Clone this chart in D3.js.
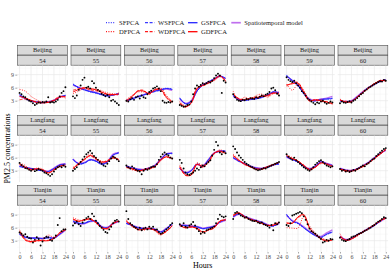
<!DOCTYPE html>
<html>
<head>
<meta charset="utf-8">
<script src="https://cdn.jsdelivr.net/npm/d3@7"></script>
<style>
  body { margin: 0; background: #fff; }
  text { font-family: "Liberation Serif", "DejaVu Serif", serif; }
</style>
</head>
<body>
<div class="canvas"></div>
<script>
// facets
const cities = ["Beijing", "Langfang", "Tianjin"];
const days = ["54", "55", "56", "57", "58", "59", "60"];

// x positions
const obsHours = [0,1,2,3,4,5,6,7,8,9,10,11,12,13,14,15,16,17,18,19,20,21,22,23,24];
const knotHours = [0,3,6,9,12,15,18,21,24];
const xTicks = [0, 6, 12, 18, 24];
const yTicks = [3, 6, 9];

// observed PM2.5 (one row per panel, Beijing 54..60, Langfang 54..60, Tianjin 54..60)
const obs = [
  [4.8,4.5,4.0,3.8,3.3,3.0,2.8,2.4,2.0,2.3,2.6,2.5,2.7,2.6,2.8,3.8,2.6,2.7,2.6,2.8,3.2,4.0,4.8,5.2,6.1],
  [4.0,3.6,4.2,5.5,6.5,7.8,8.3,6.0,6.2,5.8,7.5,7.0,6.0,5.5,5.2,4.6,4.3,4.0,4.3,3.8,3.0,3.2,2.8,2.4,2.0],
  [3.0,2.8,3.3,3.6,3.2,3.8,4.0,3.5,4.2,3.8,3.6,4.5,5.0,5.3,5.8,6.0,6.3,5.8,5.2,3.0,2.6,2.5,2.7,2.6,2.8],
  [2.0,1.8,1.6,1.7,2.0,2.1,2.8,4.5,5.8,6.5,6.2,6.6,7.0,6.8,7.0,7.4,7.2,7.6,8.2,8.8,9.2,8.8,4.8,7.6,7.2],
  [4.5,3.8,3.2,3.0,2.9,3.2,3.1,3.4,3.3,3.6,3.5,3.4,3.8,3.6,3.9,4.2,4.0,4.4,4.6,5.0,5.8,6.0,5.4,4.6,4.2],
  [8.4,7.8,7.5,7.3,7.6,7.0,6.5,6.0,5.2,4.8,4.2,3.5,3.2,2.8,2.5,2.2,2.6,2.4,2.8,3.0,2.6,2.3,2.5,2.8,2.6],
  [2.4,2.8,2.6,2.5,2.7,2.9,2.6,3.0,3.2,3.6,4.0,4.5,4.8,5.3,5.6,6.0,6.2,6.5,6.8,7.0,7.3,7.5,7.4,7.8,7.6],
  [4.8,4.3,4.0,3.6,3.5,3.2,3.0,3.3,2.9,3.1,3.4,3.2,3.0,2.6,2.4,2.1,1.8,2.2,2.8,3.4,3.8,4.0,3.8,4.2,3.9],
  [3.0,3.4,3.8,4.5,5.0,5.6,6.2,6.8,7.2,7.6,7.0,6.4,6.0,5.5,5.0,4.6,4.2,4.0,4.6,5.2,5.8,6.2,6.0,5.6,5.2],
  [4.2,3.8,3.5,4.0,3.6,3.2,3.0,2.8,2.2,3.0,3.4,3.2,3.5,3.8,4.0,3.9,4.5,5.5,6.2,6.8,7.2,6.8,6.5,6.0,5.8],
  [5.5,4.8,3.5,2.6,2.2,2.0,2.3,2.6,3.0,3.5,3.2,3.8,4.2,4.0,4.6,5.0,5.4,6.5,7.8,9.6,8.8,7.2,6.8,7.4,7.0],
  [8.6,8.0,7.2,6.5,6.0,5.5,5.0,4.6,4.3,4.0,3.8,3.5,3.3,3.1,3.2,3.4,3.6,3.5,3.8,4.0,4.2,4.4,4.6,4.8,5.0],
  [6.8,6.2,5.8,5.5,6.0,5.4,5.0,4.6,4.2,3.8,3.5,3.2,3.0,3.3,3.8,4.4,4.8,5.2,5.4,5.0,4.6,4.2,4.0,3.8,4.0],
  [3.4,3.0,3.2,2.8,3.0,2.7,2.9,3.2,3.0,3.4,3.6,3.9,4.2,4.0,4.5,4.8,5.2,5.6,5.8,6.4,6.8,7.2,7.6,8.0,8.2],
  [4.9,4.6,4.2,4.5,3.9,3.6,3.5,2.6,3.2,3.8,3.4,1.9,2.8,3.6,3.9,3.8,3.2,3.0,3.6,4.2,6.6,8.2,5.2,5.6,5.6],
  [6.5,7.0,7.4,6.8,6.4,7.2,7.8,8.2,8.5,8.0,9.2,8.6,7.6,7.0,6.4,6.0,5.5,5.0,4.8,5.6,6.2,7.0,7.6,7.8,7.4],
  [9.8,8.0,7.0,6.6,6.2,6.0,5.6,6.0,5.4,5.8,6.0,5.6,6.2,5.8,6.2,5.5,5.6,5.0,4.6,4.8,5.2,5.6,6.0,6.6,7.0],
  [6.8,6.4,7.0,6.2,6.0,6.5,6.8,7.3,6.5,5.8,5.2,4.6,5.0,4.8,5.4,5.6,5.8,6.0,6.3,7.0,8.0,9.0,8.6,8.4,8.6],
  [8.0,9.4,9.6,9.2,8.8,8.6,8.3,8.4,8.0,7.8,7.6,7.5,7.6,7.2,7.0,7.2,6.8,6.6,6.4,6.0,6.6,5.4,7.0,6.8,7.2],
  [6.6,6.4,7.0,8.8,9.0,9.2,9.4,9.6,9.3,8.6,7.8,6.8,5.8,5.2,4.9,4.6,4.2,3.8,3.4,2.6,2.8,3.2,3.0,3.4,3.3],
  [3.7,3.2,3.0,2.9,3.2,3.4,3.8,4.0,4.1,4.4,4.6,4.8,5.0,5.3,5.5,5.8,6.0,6.4,6.6,7.0,7.4,7.6,8.0,8.4,8.2]
];

// fitted curves, values at knotHours
const sfpca = [
  [4.5,3.6,3.0,2.8,2.6,2.6,3.0,3.7,4.3],[6.9,6.0,5.4,5.0,4.7,4.4,4.2,4.4,4.7],[3.0,3.3,3.8,4.2,4.8,5.2,5.6,5.9,5.7],
  [3.7,2.2,2.7,5.1,6.5,7.4,8.1,8.8,8.0],[4.3,3.2,3.0,3.2,3.5,3.8,4.2,5.0,4.7],[8.9,7.5,6.4,4.5,3.1,3.0,3.3,3.3,3.4],
  [3.1,2.8,2.8,3.8,5.0,6.1,6.9,7.4,7.9],
  [3.9,3.6,3.4,3.3,3.0,2.8,3.4,4.2,4.4],[5.5,4.5,4.8,5.4,5.1,4.5,4.9,6.5,7.0],[3.9,3.6,3.3,3.1,3.5,4.2,5.5,6.7,6.9],
  [3.4,2.5,2.9,4.5,4.0,5.4,6.9,7.5,7.6],[6.1,5.3,4.5,4.0,3.6,3.4,3.8,4.2,4.6],[6.3,5.7,4.9,4.0,3.3,3.9,4.9,4.6,4.1],
  [3.4,3.1,3.0,3.3,4.0,4.9,5.8,6.8,7.9],
  [4.4,3.8,3.5,3.6,3.5,3.6,3.6,4.6,5.6],[7.6,7.1,7.0,7.5,7.6,6.2,5.9,7.0,7.6],[6.9,6.5,6.0,5.7,5.8,5.5,5.0,5.7,6.9],
  [6.4,6.5,6.3,6.1,5.8,5.9,6.3,7.4,7.9],[8.6,9.3,8.5,8.0,7.5,7.1,6.6,6.3,7.1],[9.1,7.4,6.9,5.9,4.9,4.1,3.8,4.4,4.9],
  [3.9,3.2,3.5,4.2,5.0,5.7,6.5,7.5,8.4]
];
const wsfpca = [
  [4.4,3.5,2.9,2.7,2.5,2.7,3.1,3.8,4.2],[6.7,5.9,5.5,5.1,4.8,4.3,4.0,4.3,4.6],[2.9,3.4,3.9,4.4,4.7,5.1,5.4,5.8,5.6],
  [3.5,2.3,2.9,5.3,6.6,7.3,8.0,8.6,8.1],[4.1,3.1,3.1,3.3,3.4,3.7,4.3,5.1,4.8],[8.7,7.6,6.5,4.7,3.2,2.9,3.2,3.4,3.6],
  [3.0,2.7,2.9,3.9,4.9,6.0,6.8,7.3,7.8],
  [4.0,3.7,3.5,3.2,2.9,2.8,3.5,4.3,4.5],[5.6,4.6,4.7,5.5,5.2,4.4,5.0,6.6,7.1],[4.0,3.5,3.2,3.2,3.6,4.1,5.6,6.8,7.0],
  [3.5,2.4,3.0,4.6,3.9,5.5,7.0,7.4,7.5],[6.0,5.1,4.6,3.9,3.5,3.5,3.7,4.3,4.5],[6.2,5.5,5.0,3.9,3.4,4.0,5.0,4.5,4.2],
  [3.5,3.0,2.9,3.4,4.1,4.8,5.9,6.9,7.8],
  [4.5,3.7,3.6,3.5,3.4,3.7,3.5,4.5,5.5],[7.5,7.0,7.1,7.6,7.5,6.1,6.0,7.1,7.5],[7.0,6.4,5.9,5.8,5.7,5.6,4.9,5.8,6.8],
  [6.5,6.4,6.2,6.2,5.7,6.0,6.2,7.3,7.8],[8.5,9.2,8.7,7.9,7.6,7.2,6.5,6.4,7.0],[9.0,7.5,7.0,6.0,5.0,4.2,3.7,4.5,5.1],
  [4.0,3.1,3.4,4.3,4.9,5.8,6.4,7.6,8.3]
];
const gsfpca = [
  [4.3,3.5,3.0,2.7,2.6,2.7,3.0,3.8,4.2],[6.8,6.0,5.5,5.1,4.8,4.4,4.1,4.3,4.6],[3.0,3.4,3.9,4.3,4.8,5.2,5.5,5.8,5.6],
  [3.6,2.3,2.8,5.2,6.6,7.3,8.0,8.7,8.1],[4.2,3.2,3.1,3.3,3.5,3.8,4.3,5.0,4.8],[8.8,7.6,6.5,4.6,3.2,3.0,3.3,3.4,3.5],
  [3.0,2.8,2.9,3.9,5.0,6.0,6.8,7.4,7.8],
  [4.0,3.7,3.5,3.3,3.0,2.8,3.5,4.3,4.5],[5.6,4.6,4.8,5.5,5.2,4.5,5.0,6.6,7.1],[4.0,3.6,3.3,3.2,3.6,4.2,5.6,6.8,7.0],
  [3.5,2.5,3.0,4.5,4.0,5.5,7.0,7.5,7.5],[6.0,5.2,4.6,4.0,3.6,3.5,3.8,4.3,4.6],[6.2,5.6,5.0,4.0,3.4,4.0,5.0,4.6,4.2],
  [3.5,3.1,3.0,3.4,4.1,4.9,5.9,6.9,7.8],
  [4.5,3.8,3.6,3.6,3.5,3.7,3.6,4.5,5.5],[7.5,7.0,7.0,7.5,7.5,6.2,6.0,7.0,7.5],[7.0,6.5,6.0,5.8,5.8,5.6,5.0,5.8,6.8],
  [6.5,6.5,6.3,6.2,5.8,6.0,6.3,7.3,7.8],[8.5,9.2,8.6,8.0,7.6,7.2,6.6,6.4,7.0],[9.0,7.5,7.0,6.0,5.0,4.2,3.8,4.5,5.0],
  [4.0,3.2,3.5,4.3,5.0,5.8,6.5,7.5,8.3]
];
const spatiotemporal = [
  [4.1,3.4,2.9,2.7,2.6,2.8,3.1,3.9,4.1],[6.6,6.1,5.6,5.2,4.9,4.5,4.2,4.4,4.5],[3.1,3.5,4.0,4.4,4.9,5.3,5.6,5.7,5.4],
  [3.4,2.4,3.0,5.4,6.7,7.2,7.9,8.6,8.2],[4.0,3.3,3.2,3.3,3.6,3.9,4.4,4.9,4.9],[8.6,7.7,6.6,4.8,3.4,3.1,3.4,3.6,4.0],
  [2.9,2.8,3.0,4.0,5.1,6.0,6.7,7.5,7.7],
  [4.1,3.8,3.5,3.3,3.1,2.9,3.6,4.4,4.6],[5.7,4.7,4.9,5.6,5.3,4.6,5.1,6.8,7.2],[4.1,3.7,3.4,3.3,3.7,4.3,5.7,6.9,7.1],
  [3.6,2.6,3.1,4.4,4.1,5.6,7.1,7.6,7.4],[5.9,5.2,4.6,4.1,3.7,3.6,3.9,4.4,4.7],[6.1,5.6,5.1,4.1,3.5,4.1,5.1,4.7,4.3],
  [3.6,3.2,3.1,3.5,4.2,5.0,6.0,7.0,7.7],
  [4.6,3.9,3.7,3.7,3.6,3.8,3.7,4.4,5.4],[7.3,6.9,6.9,7.4,7.4,6.3,6.1,6.9,7.4],[7.1,6.6,6.1,5.9,5.9,5.7,5.1,5.9,6.7],
  [6.6,6.6,6.4,6.3,5.9,6.1,6.4,7.2,7.7],[8.4,9.1,8.6,8.1,7.7,7.3,6.7,6.5,6.9],[8.8,7.6,7.1,6.2,5.2,4.4,4.0,4.8,5.5],
  [4.1,3.3,3.6,4.4,5.1,5.9,6.6,7.4,8.2]
];
const dfpca = [
  [5.6,5.2,4.0,3.2,2.6,2.8,3.0,3.9,3.6],[4.6,5.2,5.8,5.6,5.7,5.3,4.8,4.6,4.2],[3.3,4.2,5.0,5.0,4.8,5.4,5.9,4.2,2.9],
  [2.8,1.8,2.4,5.5,6.8,7.2,7.6,8.5,7.8],[5.2,3.0,3.8,3.4,4.2,4.5,3.8,4.6,5.0],[6.8,5.4,6.8,5.4,3.2,3.0,3.3,2.6,2.2],
  [3.4,2.6,3.0,3.6,5.2,5.8,7.1,7.3,7.9],
  [4.7,4.2,3.0,3.6,3.4,2.6,3.0,4.2,4.0],[3.8,4.4,5.8,6.8,6.0,5.2,5.0,6.3,5.3],[4.2,3.2,3.1,3.0,3.7,4.2,5.2,6.4,6.0],
  [4.3,2.2,2.4,4.8,4.3,4.8,6.8,7.8,7.2],[6.8,5.6,4.3,4.0,3.2,3.5,4.0,4.2,5.0],[6.7,6.0,5.0,4.4,3.1,3.9,4.6,4.7,3.8],
  [3.6,2.8,3.1,3.2,4.2,4.6,6.0,6.7,8.1],
  [5.5,3.5,2.9,3.2,3.3,4.3,3.8,4.6,5.8],[8.3,7.8,7.6,8.2,7.0,6.2,5.6,7.2,7.4],[7.8,6.2,5.8,5.4,6.0,5.2,4.3,5.4,6.2],
  [6.8,5.8,6.4,5.6,4.8,5.6,6.2,7.3,8.0],[9.0,9.5,8.3,8.1,7.4,7.1,6.3,6.8,7.3],[6.0,5.9,5.9,8.6,6.4,4.8,3.7,3.2,3.0],
  [4.6,3.0,3.6,4.0,5.2,5.6,6.8,7.4,8.4]
];
const wdfpca = [
  [3.2,3.4,3.0,2.8,2.7,2.6,3.2,4.0,3.8],[5.4,5.8,5.9,5.5,5.3,4.9,4.4,4.3,4.8],[2.8,3.8,5.3,5.4,4.5,5.5,5.4,3.6,2.6],
  [2.3,1.5,2.6,6.0,6.4,7.0,7.9,8.8,7.4],[4.6,3.5,3.3,3.6,3.8,4.1,4.0,4.7,4.6],[6.4,7.1,7.2,4.8,2.9,3.3,2.8,2.8,2.4],
  [3.1,2.9,2.7,3.9,4.8,6.1,6.8,7.7,7.5],
  [4.4,3.6,3.2,3.5,3.1,2.4,3.3,3.9,4.4],[3.4,4.8,5.5,6.4,5.6,4.9,5.4,5.9,5.6],[3.7,3.5,2.9,3.3,3.4,3.9,5.6,6.1,5.7],
  [3.8,1.9,2.1,4.4,3.8,5.1,7.1,7.4,6.9],[6.4,5.3,4.6,3.8,3.5,3.3,3.8,4.5,4.8],[6.4,5.7,5.3,4.1,3.4,3.7,4.9,4.4,4.1],
  [3.3,3.1,2.8,3.4,3.9,4.9,5.7,6.9,7.8],
  [5.0,3.1,2.7,2.9,3.1,3.1,3.6,4.9,5.4],[7.9,7.4,7.9,7.9,7.3,5.9,5.9,6.9,7.6],[7.4,6.5,5.5,5.7,5.7,5.5,4.6,5.1,6.5],
  [6.4,6.1,6.1,5.9,5.1,5.4,5.9,7.6,7.7],[8.7,9.3,8.6,7.8,7.6,6.9,6.6,6.5,7.1],[7.2,7.1,8.3,8.8,5.8,4.4,3.4,2.9,3.3],
  [3.9,3.2,3.3,4.3,4.9,5.9,6.5,7.7,8.1]
];
const gdfpca = [
  [4.0,3.6,3.1,2.6,2.5,2.6,3.0,3.8,4.0],[5.0,5.6,6.0,5.8,5.5,5.0,4.5,4.4,4.5],[3.0,4.0,5.2,5.2,4.6,5.6,5.6,3.8,2.7],
  [2.5,1.6,2.5,5.8,6.5,7.1,7.8,8.7,7.5],[4.5,3.4,3.2,3.5,3.7,4.0,4.2,4.8,4.5],[6.6,6.9,7.0,5.0,3.0,3.2,3.0,2.7,2.3],
  [3.2,2.7,2.8,3.8,4.9,5.9,6.9,7.6,7.6],
  [4.5,3.8,3.3,3.4,3.2,2.5,3.2,4.0,4.3],[3.5,4.6,5.6,6.5,5.8,5.0,5.2,6.0,5.5],[3.8,3.4,3.0,3.2,3.5,4.0,5.5,6.2,5.8],
  [4.0,2.0,2.0,4.5,4.0,5.0,7.0,7.5,7.0],[6.5,5.4,4.5,3.9,3.4,3.4,3.9,4.4,4.9],[6.5,5.8,5.2,4.2,3.3,3.8,4.8,4.5,4.0],
  [3.4,3.0,2.9,3.3,4.0,4.8,5.8,6.8,7.9],
  [5.2,3.2,2.8,3.0,3.0,3.0,3.5,4.8,5.5],[8.0,7.5,7.8,8.0,7.2,6.0,5.8,7.0,7.5],[7.5,6.4,5.6,5.6,5.8,5.4,4.5,5.2,6.4],
  [6.5,6.0,6.2,5.8,5.0,5.5,6.0,7.5,7.8],[8.8,9.4,8.5,7.9,7.5,7.0,6.5,6.6,7.2],[7.0,7.0,8.5,9.0,6.0,4.5,3.5,3.0,3.2],
  [4.0,3.1,3.4,4.2,5.0,5.8,6.6,7.6,8.2]
];

// series styling, drawing order
const series = [
  {name: "Spatiotemporal model", values: spatiotemporal, color: "#bf6fee", dash: null, width: 1.4},
  {name: "SFPCA", values: sfpca, color: "#3b3bff", dash: "1,1.4", width: 0.9},
  {name: "WSFPCA", values: wsfpca, color: "#3b3bff", dash: "3,1.6", width: 0.9},
  {name: "GSFPCA", values: gsfpca, color: "#2424ff", dash: null, width: 1.0},
  {name: "DFPCA", values: dfpca, color: "#ff1a1a", dash: "1,1.4", width: 0.9},
  {name: "WDFPCA", values: wdfpca, color: "#ff1a1a", dash: "3,1.6", width: 0.9},
  {name: "GDFPCA", values: gdfpca, color: "#ff0000", dash: null, width: 1.0}
];
const legendRows = [
  ["SFPCA", "WSFPCA", "GSFPCA", "Spatiotemporal model"],
  ["DFPCA", "WDFPCA", "GDFPCA"]
];

// layout
const width = 390, height = 273;
const gridLeft = 17.3, panelW = 50.4, gapX = 3.0;
const gridTop = 45, stripH = 10.25, panelH = 46.5, gapY = 3;

const svg = d3.select('.canvas').append('svg')
    .attr('width', width)
    .attr('height', height);

const x = d3.scaleLinear().domain([-1.2, 25.2]).range([0, panelW]);
const y = d3.scaleLinear().domain([0.4, 11.1]).range([panelH, 0]);

const line = d3.line()
    .x((d, i) => x(knotHours[i]))
    .y(d => y(d))
    .curve(d3.curveCatmullRom);

cities.forEach((city, r) => {
  days.forEach((day, c) => {
    const idx = r * days.length + c;
    const left = gridLeft + c * (panelW + gapX);
    const top = gridTop + r * (2 * stripH + panelH + gapY);

    const g = svg.append('g').attr('transform', `translate(${left}, ${top})`);

    // strips
    [city, day].forEach((lab, k) => {
      g.append('rect')
          .attr('x', 0.3).attr('y', k * stripH + 0.3)
          .attr('width', panelW - 0.6).attr('height', stripH - 0.6)
          .attr('fill', '#d9d9d9')
          .attr('stroke', '#4d4d4d')
          .attr('stroke-width', 0.6);
      g.append('text')
          .attr('x', panelW / 2).attr('y', k * stripH + stripH / 2 + 2.2)
          .attr('text-anchor', 'middle')
          .attr('font-size', 6.4)
          .attr('fill', '#1a1a1a')
          .text(lab);
    });

    const p = g.append('g').attr('transform', `translate(0, ${2 * stripH})`);

    // grid
    [3, 9, 15, 21].forEach(h => p.append('line')
        .attr('x1', x(h)).attr('x2', x(h)).attr('y1', 0).attr('y2', panelH)
        .attr('stroke', '#f2f2f2').attr('stroke-width', 0.4));
    [1.5, 4.5, 7.5, 10.5].forEach(v => p.append('line')
        .attr('x1', 0).attr('x2', panelW).attr('y1', y(v)).attr('y2', y(v))
        .attr('stroke', '#f2f2f2').attr('stroke-width', 0.4));
    xTicks.forEach(h => p.append('line')
        .attr('x1', x(h)).attr('x2', x(h)).attr('y1', 0).attr('y2', panelH)
        .attr('stroke', '#e8e8e8').attr('stroke-width', 0.7));
    yTicks.forEach(v => p.append('line')
        .attr('x1', 0).attr('x2', panelW).attr('y1', y(v)).attr('y2', y(v))
        .attr('stroke', '#e8e8e8').attr('stroke-width', 0.7));

    // curves
    series.forEach(s => {
      p.append('path')
          .attr('d', line(s.values[idx]))
          .attr('fill', 'none')
          .attr('stroke', s.color)
          .attr('stroke-width', s.width)
          .attr('stroke-dasharray', s.dash);
    });

    // observations
    p.selectAll('circle').data(obs[idx]).join('circle')
        .attr('cx', (d, i) => x(obsHours[i]))
        .attr('cy', d => y(d))
        .attr('r', 0.95)
        .attr('fill', '#000');

    // axes
    if (c === 0) {
      const ya = p.append('g').call(d3.axisLeft(y).tickValues(yTicks).tickSize(2).tickPadding(1.2));
      ya.select('.domain').remove();
      ya.selectAll('line').attr('stroke', '#4d4d4d').attr('stroke-width', 0.5);
      ya.selectAll('text').attr('font-size', 6).attr('fill', '#4d4d4d')
          .attr('font-family', '"Liberation Serif", serif');
    }
    if (r === cities.length - 1) {
      const xa = p.append('g').attr('transform', `translate(0, ${panelH})`)
          .call(d3.axisBottom(x).tickValues(xTicks).tickSize(1.5).tickPadding(0.8));
      xa.select('.domain').remove();
      xa.selectAll('line').attr('stroke', '#4d4d4d').attr('stroke-width', 0.5);
      xa.selectAll('text').attr('font-size', 6).attr('fill', '#4d4d4d')
          .attr('font-family', '"Liberation Serif", serif');
    }
  });
});

// axis titles
const gridRight = gridLeft + days.length * panelW + (days.length - 1) * gapX;
const gridBottom = gridTop + cities.length * (2 * stripH + panelH) + (cities.length - 1) * gapY;
svg.append('text')
    .attr('x', (gridLeft + gridRight) / 2).attr('y', 268)
    .attr('text-anchor', 'middle').attr('font-size', 8).attr('fill', '#000')
    .text('Hours');
svg.append('text')
    .attr('transform', `translate(9.5, ${(gridTop + gridBottom) / 2}) rotate(-90)`)
    .attr('text-anchor', 'middle').attr('font-size', 8).attr('fill', '#000')
    .text('PM2.5 concentrations');

// legend
const legendTextX = [119, 158, 201, 244.3];
const legendY = [22.7, 31.7];
legendRows.forEach((row, ri) => {
  row.forEach((name, ci) => {
    const s = series.find(d => d.name === name);
    const tx = legendTextX[ci], ty = legendY[ri];
    svg.append('line')
        .attr('x1', tx - 13).attr('x2', tx - 3.5)
        .attr('y1', ty).attr('y2', ty)
        .attr('stroke', s.color)
        .attr('stroke-width', s.width + 0.3)
        .attr('stroke-dasharray', s.dash);
    svg.append('text')
        .attr('x', tx).attr('y', ty + 2.3)
        .attr('font-size', 6.6).attr('fill', '#1a1a1a')
        .text(name);
  });
});
</script>
</body>
</html>
